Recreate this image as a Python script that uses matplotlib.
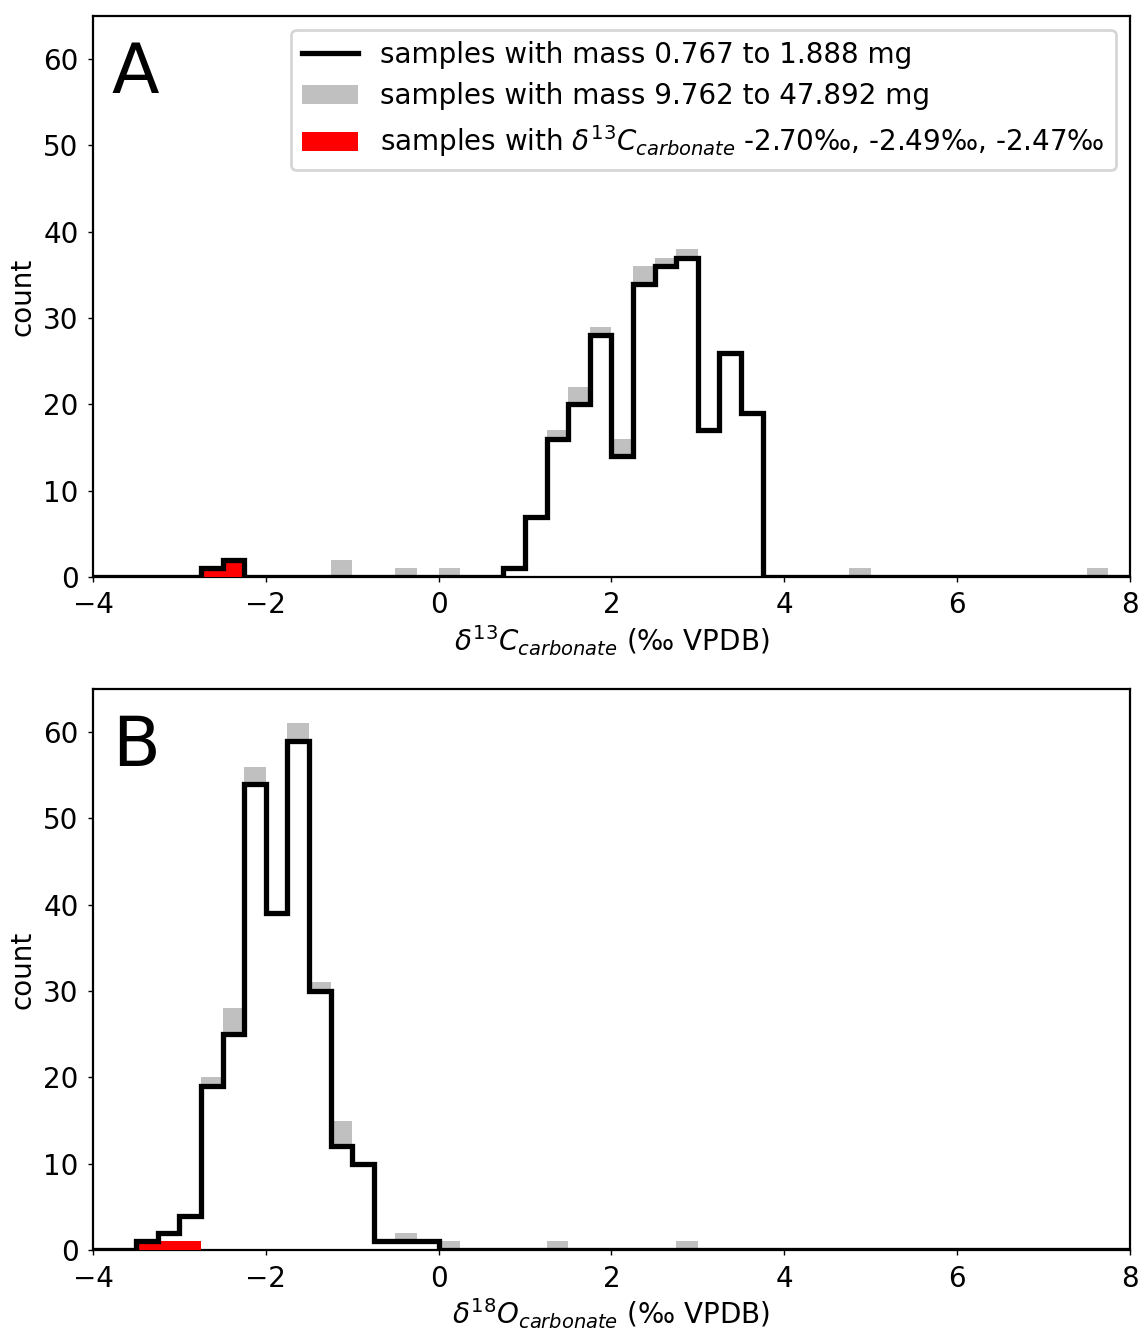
import numpy as np
import matplotlib.pyplot as plt
from matplotlib.lines import Line2D
from matplotlib.patches import Patch

# histogram bins (0.25 permil wide) over the whole axis range
edges = np.arange(-4, 8.25, 0.25)

# d13C panel: left edge of each non-empty bin and its count
c13_small_bins = [-2.75, -2.5, 0.75, 1.0, 1.25, 1.5, 1.75, 2.0, 2.25, 2.5, 2.75, 3.0, 3.25, 3.5]
c13_small_counts = [1, 2, 1, 7, 16, 20, 28, 14, 34, 36, 37, 17, 26, 19]
c13_large_bins = [-1.25, -0.5, 0.0, 1.0, 1.25, 1.5, 1.75, 2.0, 2.25, 2.5, 2.75, 3.0, 3.25, 3.5, 4.75, 7.5]
c13_large_counts = [2, 1, 1, 7, 17, 22, 29, 16, 36, 37, 38, 17, 26, 19, 1, 1]
c13_red_bins = [-2.75, -2.5]
c13_red_counts = [1, 2]

# d18O panel
o18_small_bins = [-3.5, -3.25, -3.0, -2.75, -2.5, -2.25, -2.0, -1.75, -1.5, -1.25, -1.0, -0.75, -0.5, -0.25]
o18_small_counts = [1, 2, 4, 19, 25, 54, 39, 59, 30, 12, 10, 1, 1, 1]
o18_large_bins = [-2.75, -2.5, -2.25, -2.0, -1.75, -1.5, -1.25, -1.0, -0.5, 0.0, 1.25, 2.75]
o18_large_counts = [20, 28, 56, 39, 61, 31, 15, 10, 2, 1, 1, 1]
o18_red_bins = [-3.5, -3.25, -3.0]
o18_red_counts = [1, 1, 1]

small_label = 'samples with mass 0.767 to 1.888 mg'
large_label = 'samples with mass 9.762 to 47.892 mg'
red_label = r'samples with $\delta^{13}C_{carbonate}$ -2.70‰, -2.49‰, -2.47‰'
LW = 1.9


def draw_panel(ax, small_b, small_c, large_b, large_c, red_b, red_c, letter, xlabel):
    sb = np.array(small_b) + 0.125
    lb = np.array(large_b) + 0.125
    rb = np.array(red_b) + 0.125
    ax.hist(lb, bins=edges, weights=large_c, histtype='stepfilled', color='silver', zorder=1)
    ax.hist(sb, bins=edges, weights=small_c, histtype='stepfilled', color='white', zorder=2)
    ax.hist(rb, bins=edges, weights=red_c, histtype='stepfilled', color='red', zorder=3)
    ax.hist(sb, bins=edges, weights=small_c, histtype='step', color='k', linewidth=LW, zorder=4)
    ax.set_xlim(-4, 8)
    ax.set_ylim(0, 65)
    ax.tick_params(length=1.8, width=0.5, pad=3.4)
    ax.set_ylabel('count', labelpad=2.5)
    ax.set_xlabel(xlabel, labelpad=1.5)
    ax.text(0.018, 0.957, letter, transform=ax.transAxes, fontsize=25, va='top', ha='left')


fig = plt.figure(figsize=(5.7, 6.645), dpi=200)
ax1 = fig.add_axes([0.0816, 0.5658, 0.9094, 0.4222])
ax2 = fig.add_axes([0.0816, 0.0594, 0.9094, 0.4222])

draw_panel(ax1, c13_small_bins, c13_small_counts, c13_large_bins, c13_large_counts,
           c13_red_bins, c13_red_counts, 'A', r'$\delta^{13}C_{carbonate}$ (‰ VPDB)')
draw_panel(ax2, o18_small_bins, o18_small_counts, o18_large_bins, o18_large_counts,
           o18_red_bins, o18_red_counts, 'B', r'$\delta^{18}O_{carbonate}$ (‰ VPDB)')

handles = [Line2D([], [], color='k', linewidth=LW),
           Patch(facecolor='silver'),
           Patch(facecolor='red')]
ax1.legend(handles, [small_label, large_label, red_label], loc='upper right',
           labelspacing=0.47)

plt.savefig('out.png', dpi=200)
